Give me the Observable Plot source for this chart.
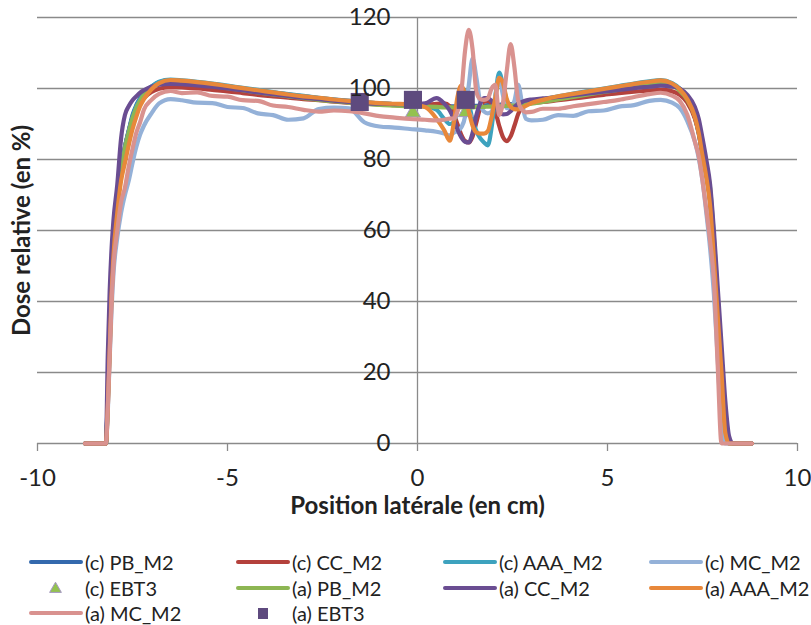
<!DOCTYPE html>
<html><head><meta charset="utf-8">
<script src="https://cdn.jsdelivr.net/npm/d3@7"></script>
<script src="https://cdn.jsdelivr.net/npm/@observablehq/plot@0.6"></script>
<style>
body{margin:0;background:#fff;font-family:Lato,"Liberation Sans",sans-serif;}
#wrap{position:relative;width:811px;height:625px;overflow:hidden;background:#fff}
.item{position:absolute;display:flex;align-items:center;height:26px;font-size:20px;color:#222;white-space:nowrap}
.item svg{display:block;margin-right:2px}
</style></head><body><div id="wrap"></div>
<script>
// ---------- data ----------
const xPos = [
 -8.75,-8.2,-8.15,-8.1,-8.05,-8.0,-7.9,-7.8,-7.7,-7.6,
 -7.5,-7.4,-7.3,-7.2,-7.0,-6.8,-6.5,-6.2,-5.8,-5.4,
 -5.0,-4.6,-4.2,-3.8,-3.4,-3.0,-2.6,-2.2,-1.8,-1.4,
 -1.0,-0.6,-0.2,0.2,0.5,0.7,0.85,0.95,1.05,1.15,
 1.25,1.35,1.45,1.55,1.65,1.75,1.85,1.95,2.05,2.15,
 2.25,2.35,2.45,2.55,2.65,2.75,2.85,3.0,3.3,3.7,
 4.1,4.5,4.9,5.3,5.7,6.1,6.4,6.7,6.9,7.1,
 7.3,7.4,7.5,7.6,7.7,7.8,7.9,8.0,8.1,8.2,
 8.3,8.8];

const cPB = [
 0,0,14,30,45,56,68,77,83.5,88,
 92.5,95.3,97.3,98.8,100.6,101.8,102.4,102.1,101.7,101.2,
 100.6,100.0,99.4,98.8,98.3,97.8,97.3,96.9,96.5,96.1,
 95.8,95.6,95.4,95.2,95.1,95.0,95.0,95.0,95.0,95.0,
 95.0,95.0,95.1,95.1,95.2,95.2,95.3,95.3,95.4,95.4,
 95.5,95.5,95.6,95.6,95.7,95.8,95.9,96.1,96.6,97.3,
 98.0,98.7,99.4,100.1,100.8,101.5,101.9,101.1,99.6,96.8,
 91.8,87.3,81.0,75.5,68.0,53.0,37.0,20.0,5.0,0,
 0,0];
const cCC = [
 0,0,13,29,45,56,68,77,83.5,88,
 91.8,94.3,96.0,97.3,99.0,99.9,100.4,100.3,100.0,99.6,
 99.2,98.7,98.2,97.8,97.4,97.0,96.7,96.3,96.0,95.7,
 95.5,95.3,95.2,95.3,95.7,95.8,95.0,93.0,90.0,87.0,
 85.2,84.8,86.5,90.5,94.5,96.3,96.5,95.8,93.5,89.5,
 86.3,85.2,86.5,89.5,92.8,94.7,95.5,95.9,96.2,96.7,
 97.2,97.7,98.2,98.7,99.1,99.4,99.6,99.2,98.2,96.0,
 91.5,87.5,81.5,76.0,69.0,55.0,38.0,21.0,5.0,0,
 0,0];
const cAAA = [
 0,0,12,29,45,56,68,77,83.5,88,
 92.0,95.0,97.0,98.5,100.5,101.9,102.5,102.3,101.9,101.4,
 100.8,100.2,99.6,99.0,98.4,97.9,97.4,96.9,96.5,96.1,
 95.8,95.6,95.4,95.0,94.0,91.5,90.0,90.5,94.0,98.0,
 99.5,96.0,91.0,88.0,86.0,84.8,84.0,89.0,98.0,104.5,
 101.0,96.5,94.5,94.3,94.6,95.0,95.5,96.1,96.9,97.8,
 98.6,99.3,100.0,100.7,101.4,102.0,102.4,101.5,100.0,97.2,
 92.5,88.0,82.0,76.0,68.5,54.0,38.0,22.0,6.0,0,
 0,0];
const cMC = [
 0,0,9,24,38,48,58,65,70,74,
 79,83.5,87,89.5,93,95.8,97.0,96.7,96.0,95.9,
 94.8,94.5,93.0,92.5,91.2,91.6,94.2,94.6,94.4,90.5,
 89.3,89.0,88.6,88.2,87.8,87.3,86.8,87.5,88.0,89.0,
 92.0,101.0,108.5,103.0,96.0,93.5,93.0,93.5,98.0,103.0,
 98.0,94.5,94.5,96.5,101.0,96.0,91.5,91.0,91.2,92.5,
 92.3,93.6,93.8,94.9,95.3,96.5,96.8,96.0,94.5,90.8,
 85.0,80.5,74.0,65.0,55.0,42.0,24.0,5.0,0,0,
 0,0];
const aPB = [
 0,0,12,28,44,55,67,76,83,87.5,
 91.5,94.5,96.6,98.2,100.1,101.3,101.9,101.6,101.2,100.7,
 100.1,99.5,98.9,98.3,97.8,97.3,96.8,96.4,96.0,95.7,
 95.4,95.2,95.0,94.9,94.8,94.7,94.7,94.7,94.7,94.7,
 94.7,94.7,94.7,94.8,94.8,94.8,94.9,94.9,95.0,95.0,
 95.1,95.1,95.2,95.2,95.3,95.4,95.5,95.7,96.2,96.9,
 97.6,98.3,99.0,99.7,100.4,101.1,101.5,100.8,99.4,96.8,
 92.2,88.0,83.0,78.0,72.0,58.0,41.0,24.0,7.0,0,
 0,0];
const aCC = [
 0,0,25,43,55,63,73,86,92.5,95,
 96.7,97.8,98.8,99.5,100.5,101.1,101.3,101.2,100.9,100.5,
 100.0,99.5,98.9,98.4,97.9,97.4,97.0,96.6,96.2,95.9,
 95.7,95.6,95.5,95.8,97.3,95.8,93.8,91.5,88.5,86.3,
 85.0,84.8,87.5,92.5,95.8,97.3,97.3,96.5,95.0,93.5,
 92.7,92.8,93.6,94.8,95.6,96.2,96.6,96.9,97.2,97.6,
 98.1,98.6,99.1,99.6,100.1,100.5,100.8,100.6,100.0,98.2,
 94.8,91.5,86.0,80.0,73.0,60.0,44.0,28.0,12.0,2.0,
 0,0];
const aAAA = [
 0,0,10,26,42,53,65,74,79,84,
 88.5,92.0,95.0,97.0,99.8,101.5,102.4,102.2,101.8,101.3,
 100.7,100.1,99.5,98.9,98.3,97.8,97.4,96.9,96.5,96.2,
 95.9,95.7,95.5,94.8,91.5,88.3,85.3,90.0,97.5,100.8,
 98.5,93.5,89.5,87.6,87.3,87.3,88.0,92.0,97.5,103.0,
 101.5,97.0,94.8,94.2,94.1,94.5,95.1,95.9,96.8,97.8,
 98.5,99.2,99.9,100.6,101.3,101.9,102.3,101.4,99.8,97.0,
 92.0,87.5,81.0,75.0,67.0,52.0,36.0,20.0,3.0,0,
 0,0];
const aMC = [
 0,0,10,25,40,50,60,68,72,78,
 83,87.5,90.5,94,96.8,98.5,99.3,98.7,98.9,97.9,
 97.7,96.7,96.5,95.2,94.8,94.0,93.5,93.8,93.6,93.0,
 92.2,91.8,91.4,91.2,91.0,91.2,91.5,91.5,93.5,98.5,
 110.5,116.5,111.0,99.0,97.0,96.8,97.2,100.0,101.0,92.5,
 96.0,105.0,112.5,106.0,96.5,94.0,93.3,93.4,94.3,94.3,
 95.0,95.6,96.2,96.8,97.6,98.4,98.8,98.0,96.5,92.6,
 85.0,81.0,74.0,66.0,57.0,46.0,22.0,0,0,0,
 0,0];

const ebtX = [-1.52, -0.12, 1.27];
const cEBT3 = [96.0, 93.2, 93.3];
const aEBT3 = [96.2, 96.8, 96.8];

const yTicks = [0, 20, 40, 60, 80, 100, 120];
const xTicks = [-10, -5, 0, 5, 10];
const xTitle = "Position latérale (en cm)";
const yTitle = "Dose relative (en %)";

const names = ["(c) PB_M2","(c) CC_M2","(c) AAA_M2","(c) MC_M2","(c) EBT3",
               "(a) PB_M2","(a) CC_M2","(a) AAA_M2","(a) MC_M2","(a) EBT3"];
const colors = ["#3469AD","#B4413C","#3DA2BE","#94B1D8","#93C24F",
                "#8DB653","#6A4D92","#E8883A","#D9928F","#5E4A7E"];
const seriesVals = [cPB, cCC, cAAA, cMC, null, aPB, aCC, aAAA, aMC, null];

// ---------- chart ----------
const rows = ys => xPos.map((x, i) => ({x, y: ys[i]}));
const pts = ys => ebtX.map((x, i) => ({x, y: ys[i]}));

const dataMarks = [];
names.forEach((n, i) => {
  if (n === "(c) EBT3") {
    dataMarks.push(Plot.dot(pts(cEBT3), {x: "x", y: "y", symbol: "triangle", r: 5.6,
      fill: colors[i], stroke: "#A596C4", strokeWidth: 1}));
  } else if (n === "(a) EBT3") {
    dataMarks.push(Plot.dot(pts(aEBT3), {x: "x", y: "y", symbol: "square", r: 10.2,
      fill: colors[i], stroke: "none"}));
  } else {
    dataMarks.push(Plot.line(rows(seriesVals[i]), {x: "x", y: "y", stroke: colors[i],
      strokeWidth: 4.2, curve: "monotone-x", strokeLinejoin: "round", strokeLinecap: "round"}));
  }
});

const gridColor = "#8a8a8a";
const chart = Plot.plot({
  width: 811, height: 535,
  marginLeft: 37, marginRight: 14, marginTop: 17, marginBottom: 92,
  x: {domain: [-10, 10], label: null},
  y: {domain: [0, 120], axis: null, label: null},
  style: {fontFamily: "Lato, 'Liberation Sans', sans-serif", background: "white", overflow: "visible"},
  marks: [
    Plot.ruleY(yTicks, {stroke: gridColor, strokeWidth: 1.3}),
    Plot.ruleX([0], {y1: 0, y2: 120, stroke: gridColor, strokeWidth: 1.3}),
    Plot.axisX(xTicks, {tickSize: 8, tickPadding: 17, fontSize: 24, stroke: gridColor,
      strokeWidth: 1.3, fill: "#222", label: null, tickFormat: d => String(d)}),
    ...dataMarks,
    Plot.text(yTicks, {x: 0, y: d => d, text: d => String(d), textAnchor: "end", dx: -27,
      fontSize: 24, fill: "#222"}),
    Plot.text([yTitle], {frameAnchor: "left", text: d => d, rotate: -90, dx: -15,
      textAnchor: "middle", lineAnchor: "middle",
      fontSize: 24, fontWeight: "bold", fill: "#222"}),
    Plot.text([xTitle], {frameAnchor: "bottom", text: d => d, dy: 63,
      textAnchor: "middle", lineAnchor: "middle",
      fontSize: 24, fontWeight: "bold", fill: "#222"})
  ]
});
const wrap = document.getElementById("wrap");
chart.style.position = "absolute";
chart.style.left = "0px";
chart.style.top = "0px";
wrap.appendChild(chart);

// ---------- legend (HTML below the SVG) ----------
const colX = [28, 235, 442, 648];
const rowY = [562, 588, 613];
names.forEach((n, i) => {
  const r = Math.floor(i / 4), c = i % 4;
  const div = document.createElement("div");
  div.className = "item";
  div.style.left = colX[c] + "px";
  div.style.top = (rowY[r] - 13) + "px";
  const svg = d3.create("svg").attr("width", 55).attr("height", 26);
  if (n === "(c) EBT3") {
    svg.append("path").attr("d", d3.symbol(d3.symbolTriangle, 60)())
      .attr("transform", "translate(27.5,14)").attr("fill", colors[i])
      .attr("stroke", "#A596C4").attr("stroke-width", 1);
  } else if (n === "(a) EBT3") {
    svg.append("rect").attr("x", 23).attr("y", 8).attr("width", 10).attr("height", 11)
      .attr("fill", colors[i]);
  } else {
    svg.append("line").attr("x1", 3).attr("x2", 53).attr("y1", 13).attr("y2", 13)
      .attr("stroke", colors[i]).attr("stroke-width", 4).attr("stroke-linecap", "round");
  }
  div.appendChild(svg.node());
  const span = document.createElement("span");
  span.textContent = n;
  div.appendChild(span);
  wrap.appendChild(div);
});
</script>
</body></html>
